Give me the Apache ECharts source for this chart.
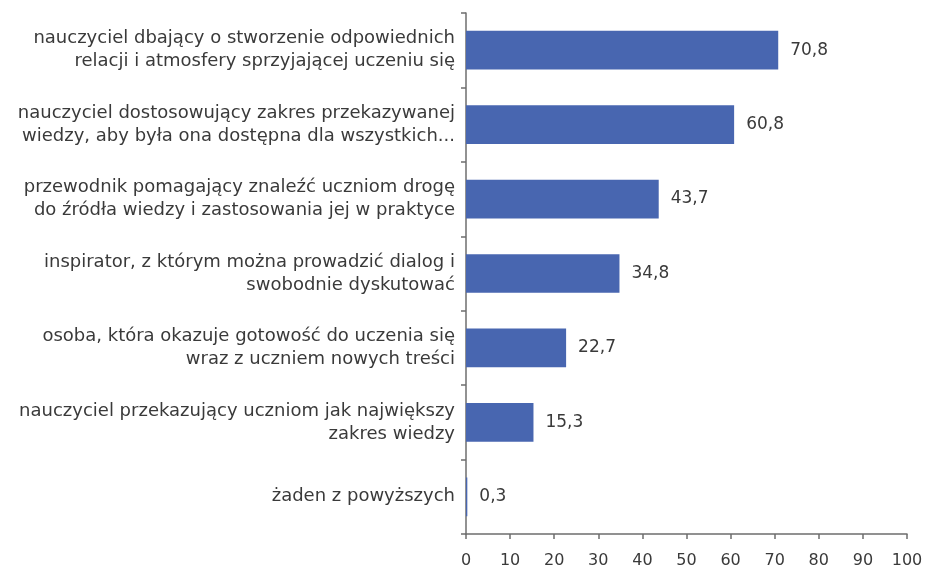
<!DOCTYPE html>
<html lang="pl">
<head>
<meta charset="UTF-8">
<title>nauczyciel</title>
<script src="https://cdn.jsdelivr.net/npm/echarts@6/dist/echarts.min.js"></script>
<style>
  html, body { margin: 0; padding: 0; background: #fff; }
  #main { width: 929px; height: 572px; }
</style>
</head>
<body>
<div id="main"></div>
<script>
// kategorie (od góry do dołu)
var categories = [
  'nauczyciel dbający o stworzenie odpowiednich\nrelacji i atmosfery sprzyjającej uczeniu się',
  'nauczyciel dostosowujący zakres przekazywanej\nwiedzy, aby była ona dostępna dla wszystkich...',
  'przewodnik pomagający znaleźć uczniom drogę\ndo źródła wiedzy i zastosowania jej w praktyce',
  'inspirator, z którym można prowadzić dialog i\nswobodnie dyskutować',
  'osoba, która okazuje gotowość do uczenia się\nwraz z uczniem nowych treści',
  'nauczyciel przekazujący uczniom jak największy\nzakres wiedzy',
  'żaden z powyższych'
];
var values = [70.8, 60.8, 43.7, 34.8, 22.7, 15.3, 0.3];

var chart = echarts.init(document.getElementById('main'));
var axisColor = '#6e6e6e';
var textColor = '#3a3a3a';
var font = 'DejaVu Sans';

chart.setOption({
  animation: false,
  grid: { left: 466, right: 22, top: 13, bottom: 38 },
  xAxis: {
    type: 'value',
    min: 0, max: 100, interval: 10,
    splitLine: { show: false },
    axisLine: { show: true, lineStyle: { color: axisColor, width: 1.5 } },
    axisTick: { show: true, length: 5, lineStyle: { color: axisColor, width: 1.5 } },
    axisLabel: { color: textColor, fontSize: 16, fontFamily: font, margin: 19 }
  },
  yAxis: {
    type: 'category',
    inverse: true,
    data: categories,
    axisLine: { show: true, lineStyle: { color: axisColor, width: 1.5 } },
    axisTick: { show: true, length: 5, lineStyle: { color: axisColor, width: 1.5 } },
    axisLabel: { color: textColor, fontSize: 18, fontFamily: font, lineHeight: 23, margin: 11, align: 'right' }
  },
  series: [{
    type: 'bar',
    data: values,
    barWidth: '52%',
    itemStyle: { color: '#4866b0' },
    label: {
      show: true,
      position: 'right',
      distance: 12,
      color: textColor,
      fontSize: 17,
      fontFamily: font,
      formatter: function (p) { return String(p.value).replace('.', ','); }
    }
  }]
});
</script>
</body>
</html>
